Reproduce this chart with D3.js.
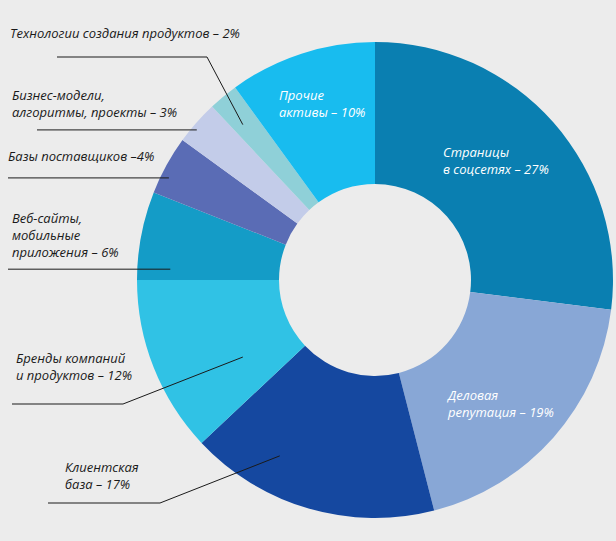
<!DOCTYPE html>
<html>
<head>
<meta charset="utf-8">
<script src="https://cdn.jsdelivr.net/npm/d3@7"></script>
<style>
  body { margin: 0; background: #ececec; }
  text { font-family: "Open Sans", sans-serif; font-style: italic; font-size: 13px; }
</style>
</head>
<body>
<svg id="chart"></svg>
<script>
var width = 616,
	height = 541;
var cx = 375, cy = 280;
var outerR = 238, innerR = 96;

// slices, clockwise from 12 o'clock
var names = ["Страницы в соцсетях", "Деловая репутация", "Клиентская база", "Бренды компаний и продуктов",
	"Веб-сайты, мобильные приложения", "Базы поставщиков", "Бизнес-модели, алгоритмы, проекты",
	"Технологии создания продуктов", "Прочие активы"];
var shares = [27, 19, 17, 12, 6, 4, 3, 2, 10];
var colors = ["#0a7fb1", "#88a7d6", "#1548a0", "#30c2e5", "#149cc7", "#5a6cb5", "#c3cce9", "#8fd0d8", "#18bcef"];

// label text lines
var labelLines = [
	["Страницы", "в соцсетях – 27%"],
	["Деловая", "репутация – 19%"],
	["Клиентская", "база – 17%"],
	["Бренды компаний", "и продуктов – 12%"],
	["Веб-сайты,", "мобильные", "приложения – 6%"],
	["Базы поставщиков –4%"],
	["Бизнес-модели,", "алгоритмы, проекты – 3%"],
	["Технологии создания продуктов – 2%"],
	["Прочие", "активы – 10%"]
];

// layout for labels: text position, leader line (start x, line y, elbow x, anchor inside slice)
var layout = [
	{x: 443, y: 157, inside: true},
	{x: 448, y: 400, inside: true},
	{x: 65, y: 472, lx: 48, ly: 503, ex: 160, t: 0.70, r: 200},
	{x: 16, y: 363, lx: 12, ly: 404, ex: 123, t: 0.30, r: 153},
	{x: 12, y: 223, lx: 8, t: 0.14, r: 205},
	{x: 8, y: 161, lx: 8, t: 0.33, r: 230},
	{x: 12, y: 100, lx: 37, t: 0.38, r: 233},
	{x: 10, y: 38, lx: 57, ly: 57, ex: 207, t: 0.39, r: 204},
	{x: 279, y: 100, inside: true}
];
var lineH = 17;

var svg = d3.select('#chart')
	.attr('width', width)
	.attr('height', height);

svg.append('rect')
	.attr('width', width)
	.attr('height', height)
	.attr('fill', '#ececec');

var pie = d3.pie()
	.sort(null)
	.value(d => d);

var arcs = pie(shares);

var arc = d3.arc()
	.innerRadius(innerR)
	.outerRadius(outerR);

var g = svg.append('g')
	.attr('transform', 'translate(' + cx + ',' + cy + ')');

g.selectAll('path')
	.data(arcs)
	.join('path')
	.attr('d', arc)
	.attr('fill', (d, i) => colors[i]);

// point inside a slice at fraction t of its angle and radius r
function anchor(a, t, r) {
	var ang = a.startAngle + (a.endAngle - a.startAngle) * t;
	return [cx + r * Math.sin(ang), cy - r * Math.cos(ang)];
}

// leader lines
layout.forEach(function(l, i) {
	if (l.inside) return;
	var p = anchor(arcs[i], l.t, l.r);
	var pts;
	if (l.ex != null) {
		pts = [[l.lx, l.ly], [l.ex, l.ly], p];
	} else {
		pts = [[l.lx, p[1]], p];
	}
	svg.append('path')
		.attr('d', d3.line()(pts))
		.attr('fill', 'none')
		.attr('stroke', '#1a1a1a')
		.attr('stroke-width', 1);
});

// labels
layout.forEach(function(l, i) {
	var t = svg.append('text')
		.attr('x', l.x)
		.attr('y', l.y)
		.attr('fill', l.inside ? '#ffffff' : '#1a1a1a');
	labelLines[i].forEach(function(s, k) {
		t.append('tspan')
			.attr('x', l.x)
			.attr('y', l.y + k * lineH)
			.text(s);
	});
});
</script>
</body>
</html>
